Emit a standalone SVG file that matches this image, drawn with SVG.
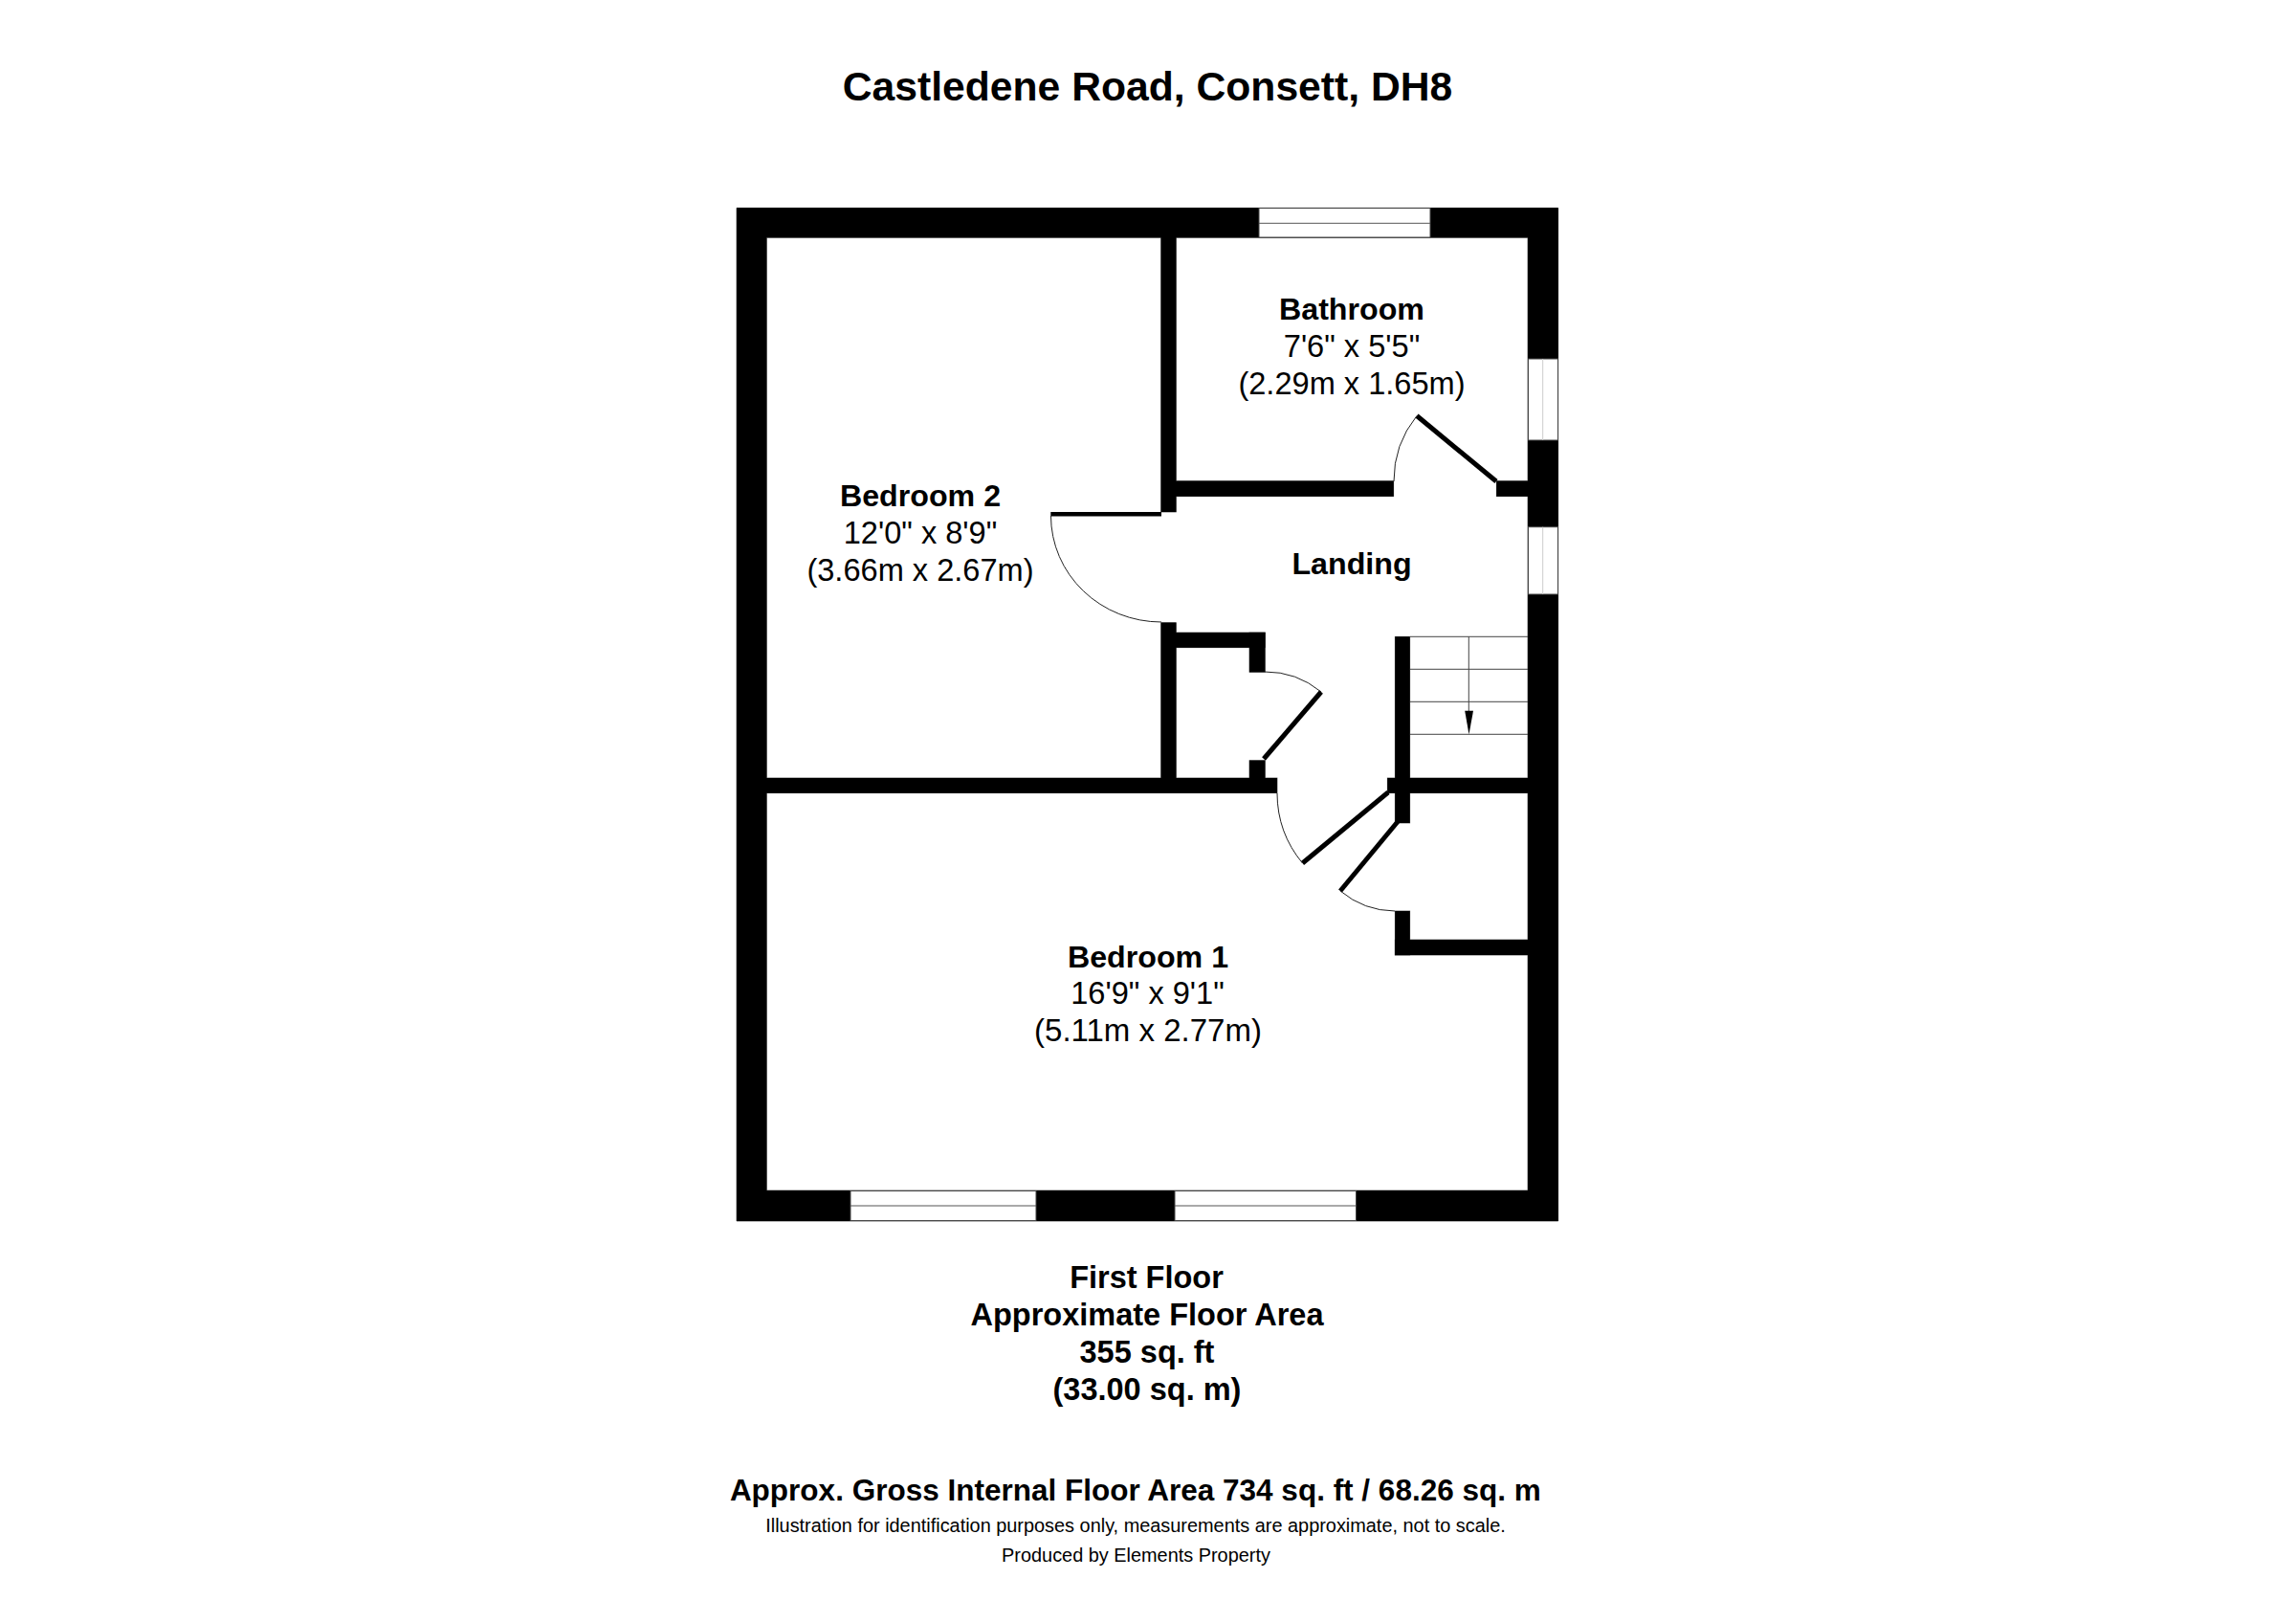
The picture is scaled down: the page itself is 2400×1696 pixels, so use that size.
<svg xmlns="http://www.w3.org/2000/svg" xmlns:xlink="http://www.w3.org/1999/xlink" width="2400" height="1696" viewBox="0 0 2400 1696">
<style>
text{font-family:"Liberation Sans",Arial,sans-serif;fill:#000;text-anchor:middle}
.b{font-weight:700;font-size:32.2px}
.r{font-size:32.6px}
.f{font-weight:700;font-size:32.5px}
.win{fill:#fff;stroke:#444;stroke-width:1}
.mid{stroke:#555;stroke-width:1;fill:none}
.midl{stroke:#ccc;stroke-width:1;fill:none}
.leaf{stroke:#000;stroke-width:5;fill:none}
.arc{stroke:#222;stroke-width:1;fill:none}
.st{stroke:#444;stroke-width:1;fill:none}
</style>
<defs>
<g id="wallshapes">
<path fill-rule="evenodd" d="M770 217.3H1628.7V1276H770ZM801.3 248.3V1244H1597V248.3Z"/>
<rect x="1213.7" y="248" width="15.6" height="287"/>
<rect x="1229" y="502.7" width="227.7" height="16"/>
<rect x="1564.3" y="502.7" width="33" height="16"/>
<rect x="1213.7" y="650.7" width="15.6" height="163"/>
<rect x="1229" y="661" width="93.3" height="15.7"/>
<rect x="1306" y="661" width="16.3" height="41.3"/>
<rect x="1306" y="794.7" width="16.3" height="19"/>
<rect x="801" y="813" width="534" height="15.7"/>
<rect x="1450.3" y="813" width="147" height="15.7"/>
<rect x="1458.3" y="665.3" width="15.4" height="194.7"/>
<rect x="1458.3" y="952" width="15.4" height="46"/>
<rect x="1458.3" y="982" width="139" height="16"/>
</g>
</defs>
<rect width="2400" height="1696" fill="#fff"/>
<text id="title" x="1199.5" y="105" style="font-weight:700;font-size:42.67px">Castledene Road, Consett, DH8</text>
<g id="walls">
<use xlink:href="#wallshapes" href="#wallshapes" stroke="#555" stroke-width="0.8"/>
<use xlink:href="#wallshapes" href="#wallshapes" fill="#000"/>
</g>
<g id="windows">
<rect class="win" x="1316" y="217.5" width="179" height="30.5"/><path class="mid" d="M1316 233.3H1495"/>
<rect class="win" x="1597.5" y="375" width="31" height="85"/><path class="midl" d="M1612.7 375V460"/>
<rect class="win" x="1597.5" y="550.7" width="31" height="70.3"/><path class="midl" d="M1612.7 550.7V621"/>
<rect class="win" x="889" y="1244.5" width="194" height="31"/><path class="mid" d="M889 1260H1083"/>
<rect class="win" x="1228" y="1244.5" width="189.5" height="31"/><path class="mid" d="M1228 1260H1417.5"/>
</g>
<g id="connectors">
<g id="door-bathroom"><path class="leaf" d="M1564 503L1481 434.5"/><path class="arc" d="M1457 503A108 108 0 0 1 1481 434.5"/></g>
<g id="door-bedroom2"><rect x="1098.3" y="535" width="115.7" height="4.5" fill="#000"/><path class="arc" d="M1098.5 539A115.5 111 0 0 0 1214 650"/></g>
<g id="door-cupboard-upper"><path class="leaf" d="M1321 793L1381 723"/><path class="arc" d="M1322 702A92 92 0 0 1 1381 723"/></g>
<g id="door-bedroom1"><path class="leaf" d="M1451 828L1361.5 902"/><path class="arc" d="M1335 829A115 115 0 0 0 1361.5 902"/></g>
<g id="door-cupboard-lower"><path class="leaf" d="M1461.5 858L1401 931"/><path class="arc" d="M1401 931A90 90 0 0 0 1458 952"/></g>
</g>
<g id="stairs">
<path class="st" d="M1474 665.3H1597M1474 699.3H1597M1474 733.3H1597M1474 767.3H1597M1535.3 665.3V745"/>
<path d="M1531.2 742.7H1540L1535.5 767.5Z" fill="#000"/>
</g>
<g id="bedroom2">
<text x="962" y="529" class="b">Bedroom 2</text>
<text x="962" y="568" class="r">12'0" x 8'9"</text>
<text x="962" y="607" class="r">(3.66m x 2.67m)</text>
</g>
<g id="bathroom">
<text x="1413" y="334.3" class="b">Bathroom</text>
<text x="1413" y="372.7" class="r">7'6" x 5'5"</text>
<text x="1413" y="411.7" class="r">(2.29m x 1.65m)</text>
</g>
<g id="landing"><text x="1413" y="600" class="b">Landing</text></g>
<g id="bedroom1">
<text x="1200" y="1010.7" class="b">Bedroom 1</text>
<text x="1199.5" y="1049.3" class="r">16'9" x 9'1"</text>
<text x="1200" y="1088.3" class="r" style="font-size:33px">(5.11m x 2.77m)</text>
</g>
<g id="floor-area">
<text x="1198.5" y="1346" class="f">First Floor</text>
<text x="1199" y="1385" class="f">Approximate Floor Area</text>
<text x="1199" y="1424" class="f">355 sq. ft</text>
<text x="1199" y="1462.7" class="f">(33.00 sq. m)</text>
</g>
<g id="footer">
<text x="1186.8" y="1567.7" style="font-weight:700;font-size:31.5px">Approx. Gross Internal Floor Area 734 sq. ft / 68.26 sq. m</text>
<text x="1187" y="1600.7" style="font-size:19.9px">Illustration for identification purposes only, measurements are approximate, not to scale.</text>
<text x="1187.5" y="1631.7" style="font-size:19.9px">Produced by Elements Property</text>
</g>
</svg>
